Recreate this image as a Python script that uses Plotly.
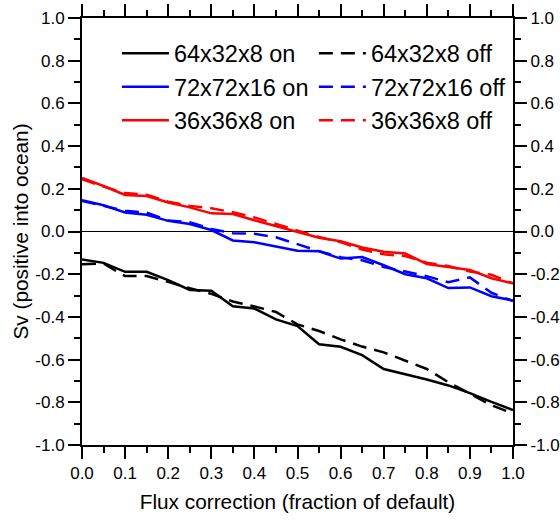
import plotly.graph_objects as go

x = [0.0, 0.05, 0.1, 0.15, 0.2, 0.25, 0.3, 0.35, 0.4, 0.45, 0.5,
     0.55, 0.6, 0.65, 0.7, 0.75, 0.8, 0.85, 0.9, 0.95, 1.0]

black_on = [-0.131, -0.147, -0.189, -0.189, -0.228, -0.274, -0.278, -0.350, -0.361, -0.412, -0.443,
            -0.528, -0.540, -0.579, -0.644, -0.667, -0.693, -0.721, -0.757, -0.798, -0.836]
black_off = [-0.153, -0.150, -0.209, -0.209, -0.236, -0.266, -0.292, -0.328, -0.351, -0.377, -0.435,
             -0.466, -0.505, -0.539, -0.566, -0.605, -0.644, -0.706, -0.760, -0.814, -0.852]
blue_on = [0.146, 0.123, 0.089, 0.078, 0.050, 0.035, 0.007, -0.042, -0.050, -0.070, -0.090,
           -0.093, -0.127, -0.120, -0.158, -0.200, -0.219, -0.265, -0.262, -0.303, -0.323]
blue_off = [0.143, 0.120, 0.097, 0.089, 0.052, 0.043, 0.012, -0.008, -0.011, -0.027, -0.060,
            -0.092, -0.120, -0.135, -0.166, -0.189, -0.209, -0.238, -0.215, -0.287, -0.326]
red_on = [0.251, 0.213, 0.171, 0.166, 0.136, 0.113, 0.085, 0.082, 0.053, 0.025, -0.003,
          -0.029, -0.046, -0.075, -0.095, -0.103, -0.152, -0.165, -0.180, -0.219, -0.243]
red_off = [0.245, 0.210, 0.180, 0.172, 0.140, 0.120, 0.109, 0.090, 0.066, 0.035, 0.005,
           -0.026, -0.050, -0.084, -0.107, -0.115, -0.146, -0.162, -0.188, -0.203, -0.243]

xtick_vals = [0.0, 0.1, 0.2, 0.3, 0.4, 0.5, 0.6, 0.7, 0.8, 0.9, 1.0]
xtick_text = ["0.0", "0.1", "0.2", "0.3", "0.4", "0.5", "0.6", "0.7", "0.8", "0.9", "1.0"]
ytick_vals = [-1.0, -0.8, -0.6, -0.4, -0.2, 0.0, 0.2, 0.4, 0.6, 0.8, 1.0]
ytick_text = ["-1.0", "-0.8", "-0.6", "-0.4", "-0.2", "0.0", "0.2", "0.4", "0.6", "0.8", "1.0"]

series = [
    ("64x32x8 on", black_on, "black", "solid", "legend"),
    ("72x72x16 on", blue_on, "#0000ff", "solid", "legend"),
    ("36x36x8 on", red_on, "#ff0000", "solid", "legend"),
    ("64x32x8 off", black_off, "black", "14px,8px", "legend2"),
    ("72x72x16 off", blue_off, "#0000ff", "14px,8px", "legend2"),
    ("36x36x8 off", red_off, "#ff0000", "14px,8px", "legend2"),
]

fig = go.Figure()
for name, ys, col, dash, leg in series:
    fig.add_trace(go.Scatter(x=x, y=ys, mode="lines", name=name, legend=leg,
                             line=dict(color=col, width=2.5, dash=dash)))
fig.add_trace(go.Scatter(x=[], y=[], yaxis="y2", showlegend=False, hoverinfo="skip"))

font = "Liberation Sans, Arial, Helvetica, sans-serif"
axis_common = dict(showline=True, linecolor="black", linewidth=2, ticks="outside",
                   ticklen=12, tickwidth=2, tickcolor="black", showgrid=False,
                   tickfont=dict(size=17, color="black", family=font))
minor_common = dict(ticks="outside", ticklen=6, tickwidth=1.5, tickcolor="black")
legend_common = dict(orientation="v", y=0.9685, xanchor="left", yanchor="top",
                     font=dict(size=23.5, color="black", family=font),
                     bgcolor="rgba(0,0,0,0)", itemwidth=47, borderwidth=0)

fig.update_layout(
    width=560, height=522,
    margin=dict(l=82, r=47, t=18, b=72),
    paper_bgcolor="white", plot_bgcolor="white",
    font=dict(family=font, color="black"),
    xaxis=dict(range=[0, 1], tickvals=xtick_vals, ticktext=xtick_text,
               mirror="ticks", minor=dict(dtick=0.05, **minor_common),
               title=dict(text="Flux correction (fraction of default)", font=dict(size=20.8), standoff=12),
               zeroline=False, automargin="bottom", **axis_common),
    yaxis=dict(range=[-1, 1], tickvals=ytick_vals, ticktext=ytick_text,
               minor=dict(dtick=0.1, **minor_common),
               title=dict(text="Sv (positive into ocean)", font=dict(size=20.8), standoff=1),
               zeroline=True, zerolinecolor="black", zerolinewidth=1, automargin="left", **axis_common),
    yaxis2=dict(range=[-1, 1], tickvals=ytick_vals, ticktext=ytick_text, overlaying="y", side="right",
                minor=dict(dtick=0.1, **minor_common), zeroline=False, automargin=False,
                **axis_common),
    legend=dict(x=0.081, **legend_common),
    legend2=dict(x=0.538, **legend_common),
)

fig.write_html("out.html", config={"displayModeBar": False},
               post_script="document.body.style.margin='0';document.body.style.overflow='hidden';")
